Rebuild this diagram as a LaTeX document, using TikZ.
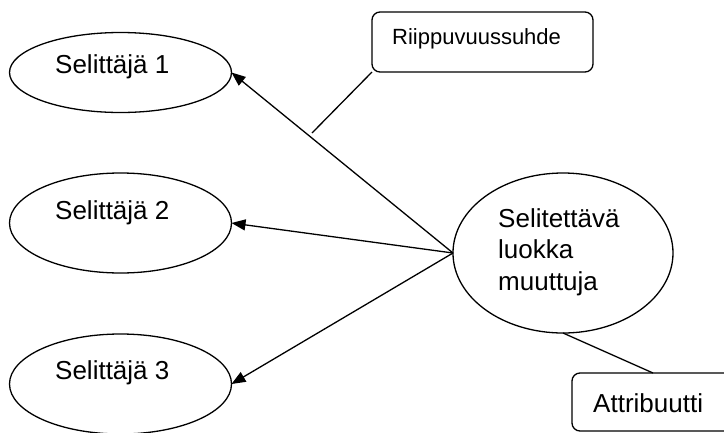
\documentclass[tikz,border=0pt]{standalone}
\usepackage{fontspec}
\setmainfont{Liberation Sans}
\usetikzlibrary{shapes.geometric,arrows.meta}

\tikzset{
  oval/.style={draw, ellipse, line width=1.3pt, inner sep=0pt, outer sep=0pt},
  notebox/.style={draw, rectangle, rounded corners=8pt, line width=1.3pt, inner sep=0pt, outer sep=0pt},
  lbl/.style={inner sep=0pt, anchor=base west, font=\fontsize{26pt}{31.5pt}\selectfont},
  smalllbl/.style={inner sep=0pt, anchor=base west, font=\fontsize{22pt}{26pt}\selectfont},
  conn/.style={line width=1.3pt},
  arr/.style={conn, -{Triangle[length=14pt,width=11pt]}}
}

\begin{document}
\begin{tikzpicture}[x=1pt, y=-1pt]
  \useasboundingbox (0,0) rectangle (724,432);
  \clip (0,0) rectangle (724,432);

  % explanatory variables
  \node[oval, minimum width=222pt, minimum height=80pt]  (e1) at (120.5,72.5) {};
  \node[oval, minimum width=222pt, minimum height=100pt] (e2) at (120.5,223) {};
  \node[oval, minimum width=222pt, minimum height=100pt] (e3) at (120.5,384) {};
  \node[lbl] (t1) at (55,73)  {Selittäjä 1};
  \node[lbl] (t2) at (55,219) {Selittäjä 2};
  \node[lbl] (t3) at (55,379) {Selittäjä 3};

  % class variable being explained (base anchor sits on the last line)
  \node[oval, minimum width=220pt, minimum height=160pt] (y) at (563,253) {};
  \node[lbl, align=left] (yt) at (498,290) {Selitettävä\\luokka\\muuttuja};

  % callout boxes
  \node[notebox, minimum width=221pt, minimum height=60pt] (r) at (482.5,42) {};
  \node[smalllbl] (rt) at (392,44) {Riippuvuussuhde};
  \node[notebox, minimum width=172pt, minimum height=58pt] (a) at (658,402) {};
  \node[lbl] (atx) at (593,412) {Attribuutti};

  % dependency arrows
  \draw[arr] (y.west) -- (e1.east);
  \draw[arr] (y.west) -- (e2.east);
  \draw[arr] (y.west) -- (e3.east);

  % callout leaders
  \coordinate (rend) at (312,133);
  \draw[conn] (r.south west) -- (rend);
  \draw[conn] (y.south) -- ([xshift=81pt]a.north west);
\end{tikzpicture}
\end{document}
